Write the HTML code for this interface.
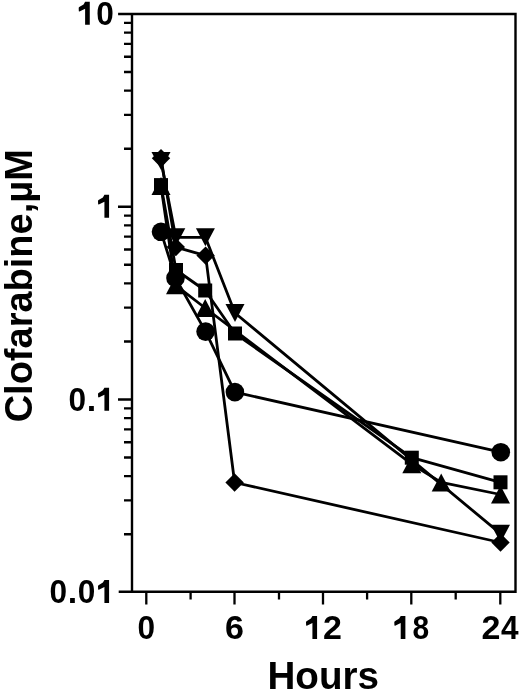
<!DOCTYPE html>
<html><head><meta charset="utf-8"><style>
html,body{margin:0;padding:0;background:#fff;width:520px;height:693px;overflow:hidden}
svg{display:block;font-family:"Liberation Sans",sans-serif;filter:grayscale(1) blur(0.4px)}
</style></head><body>
<svg width="520" height="693" viewBox="0 0 520 693">
<path d="M119.3 14.0H515.5V591.7H119.9M132.0 14.0V591.7" fill="none" stroke="#000" stroke-width="2.4" stroke-linecap="square"/>
<path d="M124 148.73H132.0M124 114.78H132.0M124 90.70H132.0M124 72.02H132.0M124 56.76H132.0M124 43.86H132.0M124 32.68H132.0M124 22.82H132.0M124 341.48H132.0M124 307.53H132.0M124 283.45H132.0M124 264.77H132.0M124 249.51H132.0M124 236.61H132.0M124 225.43H132.0M124 215.57H132.0M124 534.23H132.0M124 500.28H132.0M124 476.20H132.0M124 457.52H132.0M124 442.26H132.0M124 429.36H132.0M124 418.18H132.0M124 408.32H132.0M118 206.75H132.0M118 399.50H132.0M146.30 591.7V604.6M234.50 591.7V604.6M323.00 591.7V604.6M411.30 591.7V604.6M500.30 591.7V604.6M190.60 591.7V599.4M279.00 591.7V599.4M367.10 591.7V599.4M455.70 591.7V599.4" fill="none" stroke="#000" stroke-width="2.3"/>
<polyline points="161,231.8 175.5,278 205.6,331.6 234.9,392.1 500.8,452.2" fill="none" stroke="#000" stroke-width="2.8" stroke-linejoin="round"/>
<polyline points="161,185.1 176,270 205.2,290.5 235,333.5 411.8,457.7 500.5,482.3" fill="none" stroke="#000" stroke-width="2.8" stroke-linejoin="round"/>
<polyline points="161,186 175.5,285.2 205.2,308 411.8,464.2 441.2,482.4 500.5,494.5" fill="none" stroke="#000" stroke-width="2.8" stroke-linejoin="round"/>
<polyline points="161,161 175.8,237.3 205.4,237.3 235,313 500.5,533.7" fill="none" stroke="#000" stroke-width="2.8" stroke-linejoin="round"/>
<polyline points="161,158.2 175.8,247.1 205.6,255.6 234.6,482.5 500.5,542.5" fill="none" stroke="#000" stroke-width="2.8" stroke-linejoin="round"/>
<g fill="#000"><circle cx="161" cy="231.8" r="9.3"/><circle cx="175.5" cy="278" r="9.3"/><circle cx="205.6" cy="331.6" r="9.3"/><circle cx="234.9" cy="392.1" r="9.3"/><circle cx="500.8" cy="452.2" r="9.3"/><rect x="154.0" y="178.1" width="14.0" height="14.0"/><rect x="169.0" y="263.0" width="14.0" height="14.0"/><rect x="198.2" y="283.5" width="14.0" height="14.0"/><rect x="228.0" y="326.5" width="14.0" height="14.0"/><rect x="404.8" y="450.7" width="14.0" height="14.0"/><rect x="493.5" y="475.3" width="14.0" height="14.0"/><path d="M161 177.0L170.5 195.0H151.5Z"/><path d="M175.5 276.2L185.0 294.2H166.0Z"/><path d="M205.2 299.0L214.7 317.0H195.7Z"/><path d="M411.8 455.2L421.3 473.2H402.3Z"/><path d="M441.2 473.4L450.7 491.4H431.7Z"/><path d="M500.5 485.5L510.0 503.5H491.0Z"/><path d="M161 170.0L170.5 152.0H151.5Z"/><path d="M175.8 246.3L185.3 228.3H166.3Z"/><path d="M205.4 246.3L214.9 228.3H195.9Z"/><path d="M235 322.0L244.5 304.0H225.5Z"/><path d="M500.5 542.7L510.0 524.7H491.0Z"/><path d="M161 149.0L170.2 158.2L161 167.39999999999998L151.8 158.2Z"/><path d="M175.8 237.9L185.0 247.1L175.8 256.3L166.60000000000002 247.1Z"/><path d="M205.6 246.4L214.79999999999998 255.6L205.6 264.8L196.4 255.6Z"/><path d="M234.6 473.3L243.79999999999998 482.5L234.6 491.7L225.4 482.5Z"/><path d="M500.5 533.3L509.7 542.5L500.5 551.7L491.3 542.5Z"/></g>
<g font-family="Liberation Sans, sans-serif" font-weight="bold" font-size="34" fill="#000"><polygon points="85.11,1.85 89.77,1.85 89.77,24.80 85.11,24.80 85.11,8.82 79.50,11.54 78.82,11.20 78.68,7.80 79.23,7.05 83.58,4.40"/><text transform="translate(105.14,24.8) scale(0.93,1)" x="-9.46" y="0">0</text><polygon points="104.42,194.85 109.08,194.85 109.08,217.80 104.42,217.80 104.42,201.82 98.81,204.54 98.13,204.20 97.99,200.80 98.54,200.05 102.89,197.40"/><text transform="translate(77.19,410.7) scale(0.93,1)" x="-9.46" y="0">0</text><text x="86.64" y="410.7">.</text><polygon points="104.42,387.75 109.08,387.75 109.08,410.70 104.42,410.70 104.42,394.72 98.81,397.44 98.13,397.10 97.99,393.70 98.54,392.95 102.89,390.30"/><text transform="translate(58.28,603.0) scale(0.93,1)" x="-9.46" y="0">0</text><text x="67.73" y="603.0">.</text><text transform="translate(86.63,603.0) scale(0.93,1)" x="-9.46" y="0">0</text><polygon points="104.42,580.05 109.08,580.05 109.08,603.00 104.42,603.00 104.42,587.02 98.81,589.74 98.13,589.40 97.99,586.00 98.54,585.25 102.89,582.60"/><text transform="translate(146.30,639.0) scale(0.93,1)" x="-9.46" y="0">0</text><text x="225.04" y="639.0">6</text><polygon points="312.42,616.05 317.08,616.05 317.08,639.00 312.42,639.00 312.42,623.02 306.81,625.74 306.13,625.40 305.99,622.00 306.54,621.25 310.89,618.60"/><text x="323.00" y="639.0">2</text><polygon points="400.72,616.05 405.38,616.05 405.38,639.00 400.72,639.00 400.72,623.02 395.11,625.74 394.43,625.40 394.29,622.00 394.84,621.25 399.19,618.60"/><text transform="translate(420.76,639.0) scale(0.88,1)" x="-9.46" y="0">8</text><text x="481.39" y="639.0">2</text><text transform="translate(509.76,639.0) scale(0.93,1)" x="-9.46" y="0">4</text></g>
<text x="267.49" y="689.4" font-family="Liberation Sans, sans-serif" font-weight="bold" font-size="38.6">Hours</text>
<text transform="translate(31.5,422.36) rotate(-90)" font-family="Liberation Sans, sans-serif" font-weight="bold" font-size="38">Clofarabine,µM</text>
</svg>
</body></html>
